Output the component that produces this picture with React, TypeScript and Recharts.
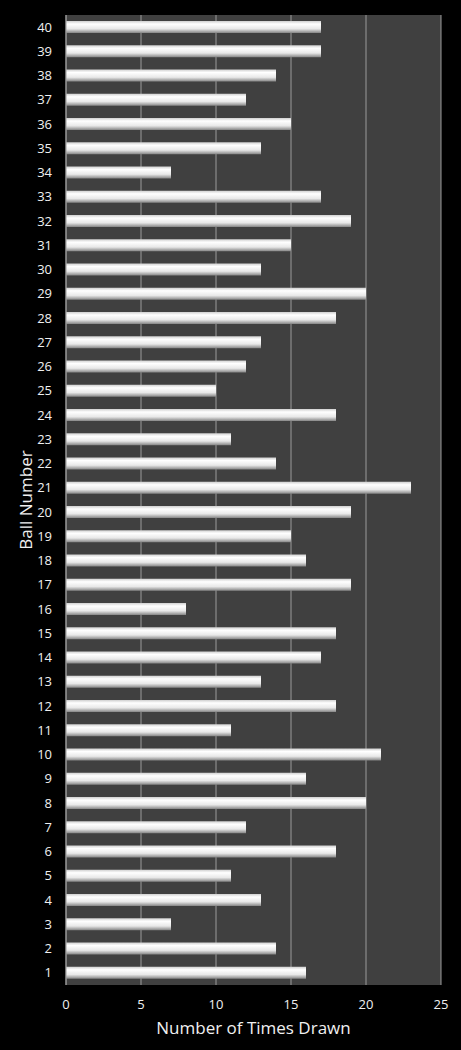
import React from "react";
import { BarChart, Bar, XAxis, YAxis, CartesianGrid, Label } from "recharts";

const balls = [
  "1","2","3","4","5","6","7","8","9","10",
  "11","12","13","14","15","16","17","18","19","20",
  "21","22","23","24","25","26","27","28","29","30",
  "31","32","33","34","35","36","37","38","39","40",
];
const timesDrawn = [
  16, 14, 7, 13, 11, 18, 12, 20, 16, 21,
  11, 18, 13, 17, 18, 8, 19, 16, 15, 19,
  23, 14, 11, 18, 10, 12, 13, 18, 20, 13,
  15, 19, 17, 7, 13, 15, 12, 14, 17, 17,
];
const xTicks = [0, 5, 10, 15, 20, 25];

const data = balls.map((b, i) => ({ ball: b, count: timesDrawn[i] }));

const FONT = "'Open Sans', 'DejaVu Sans', sans-serif";

export default function App() {
  return (
    <div style={{ position: "absolute", left: 0, top: 0, width: 461, height: 1050, background: "#000" }}>
      <BarChart
        width={461}
        height={1050}
        data={data}
        layout="vertical"
        margin={{ top: 15, right: 20, bottom: 10, left: 26 }}
        barCategoryGap="25%"
      >
        <defs>
          <linearGradient id="barGrad" x1="0" y1="0" x2="0" y2="1">
            <stop offset="0%" stopColor="#d0d0d0" />
            <stop offset="25%" stopColor="#ffffff" />
            <stop offset="65%" stopColor="#e8e8e8" />
            <stop offset="100%" stopColor="#858585" />
          </linearGradient>
        </defs>
        <CartesianGrid horizontal={false} stroke="#9a9a9a" fill="#404040" />
        <XAxis
          type="number"
          domain={[0, 25]}
          ticks={xTicks}
          axisLine={false}
          tickLine={false}
          tick={{ fill: "#f0f0f0", fontSize: 13, fontFamily: FONT }}
          tickMargin={9}
          height={55}
        >
          <Label
            value="Number of Times Drawn"
            position="insideBottom"
            offset={6}
            style={{ fill: "#f0f0f0", fontSize: 17, fontFamily: FONT }}
          />
        </XAxis>
        <YAxis
          type="category"
          dataKey="ball"
          reversed
          width={40}
          axisLine={{ stroke: "#9a9a9a" }}
          tickLine={false}
          interval={0}
          tick={{ fill: "#f0f0f0", fontSize: 13, fontFamily: FONT }}
          tickMargin={8}
        >
          <Label
            value="Ball Number"
            angle={-90}
            position="insideLeft"
            offset={0}
            style={{ fill: "#f0f0f0", fontSize: 17, fontFamily: FONT, textAnchor: "middle" }}
          />
        </YAxis>
        <Bar dataKey="count" fill="url(#barGrad)" barSize={12} isAnimationActive={false} />
      </BarChart>
    </div>
  );
}
